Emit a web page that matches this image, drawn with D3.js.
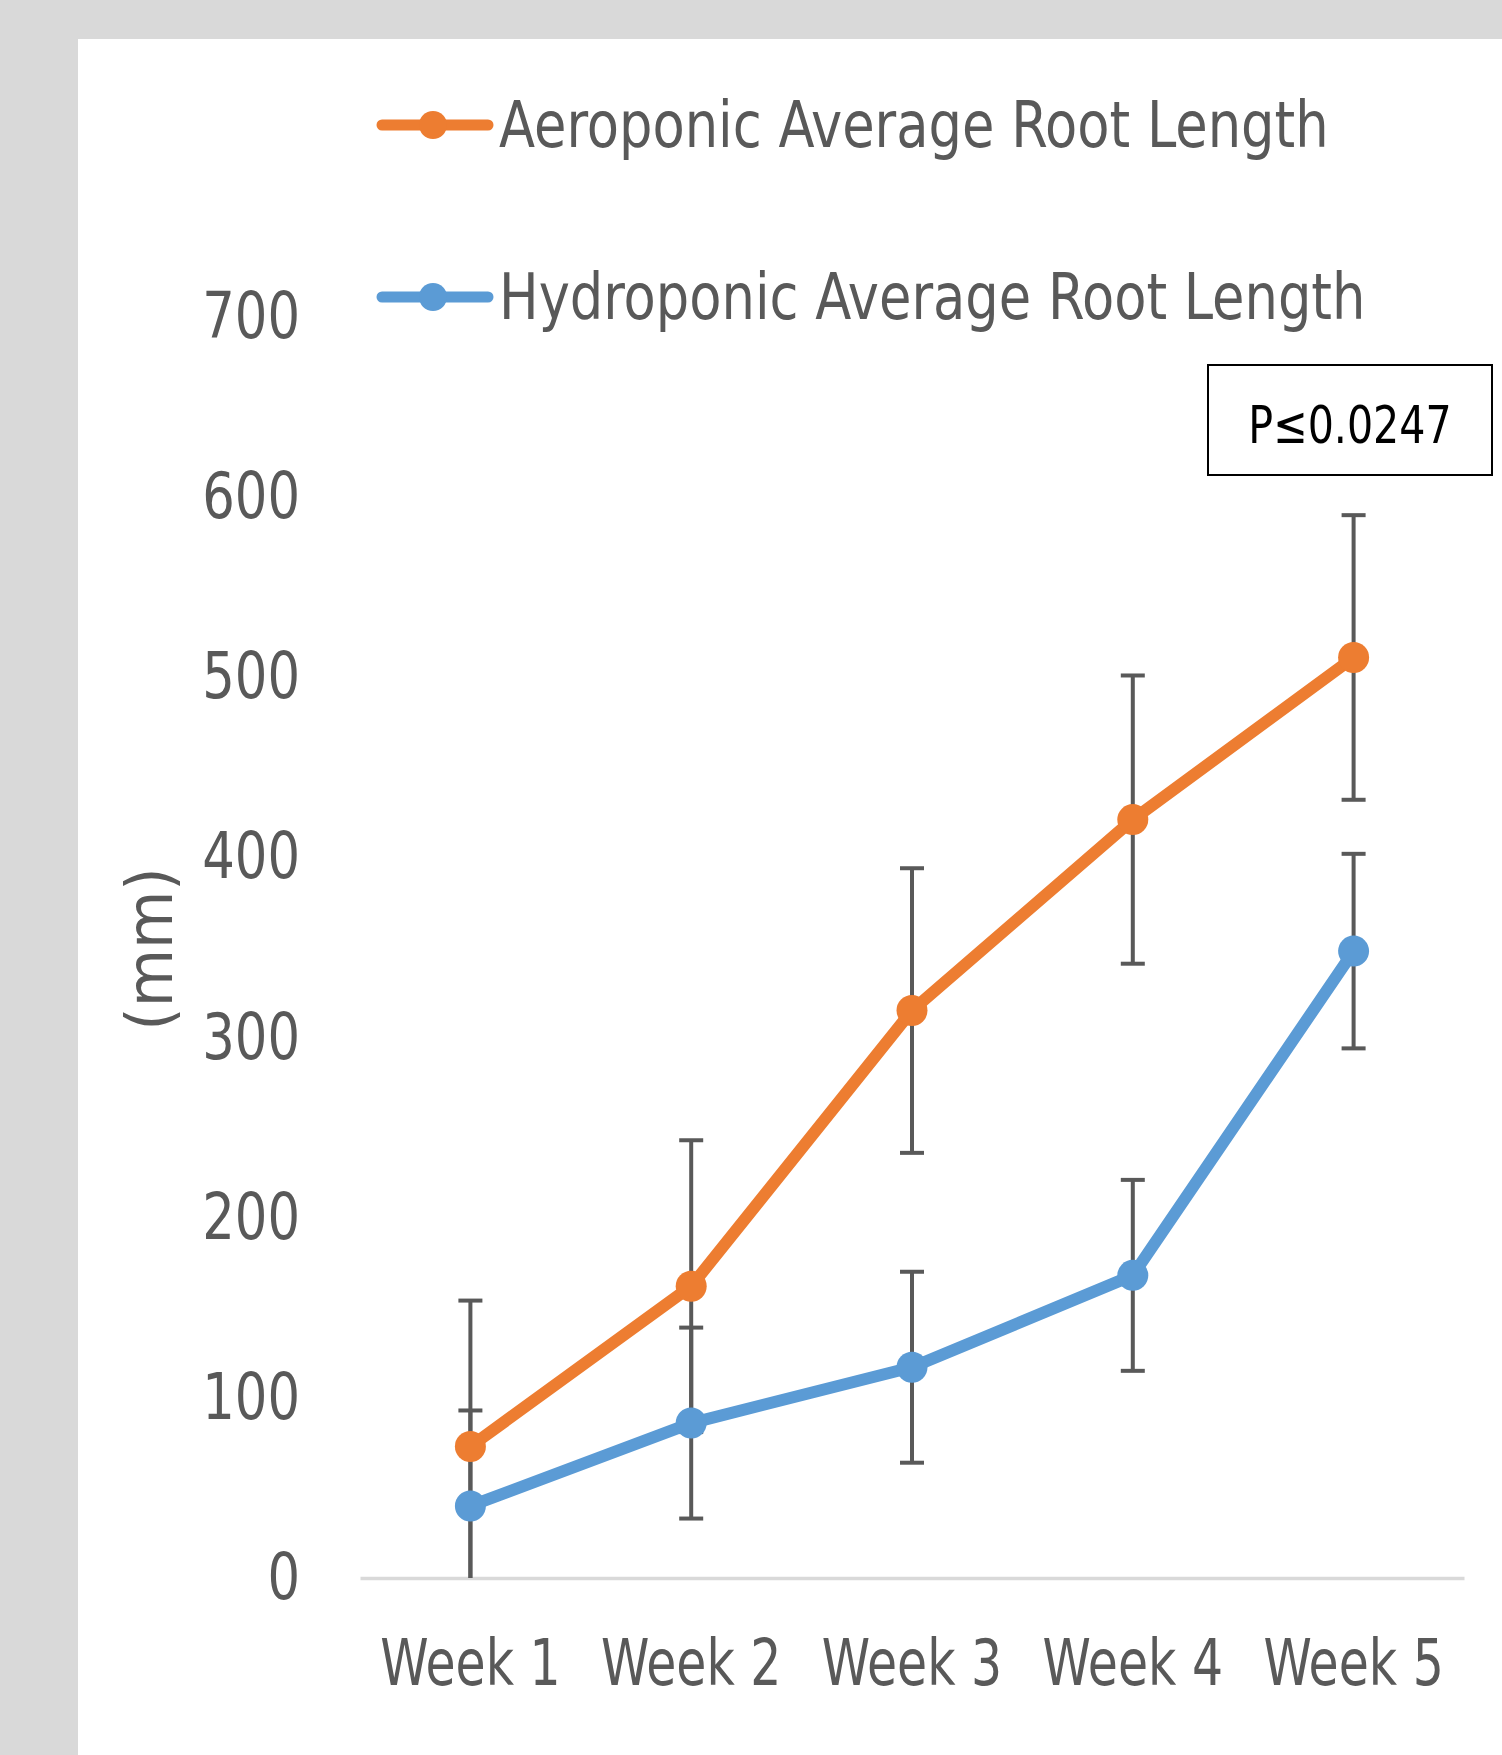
<!DOCTYPE html>
<html>
<head>
<meta charset="utf-8">
<script src="https://cdn.jsdelivr.net/npm/d3@7"></script>
<style>
  body { margin: 0; background: #d9d9d9; }
  svg { display: block; }
  .lbl { font-family: "DejaVu Sans Condensed", "Open Sans", sans-serif; fill: #595959; }
</style>
</head>
<body>
<script>
// data
var weeks = ["Week 1", "Week 2", "Week 3", "Week 4", "Week 5"];
var aeroponic = [73, 162, 315, 421, 511];
var aeroError = [81, 81, 79, 80, 79];
var hydroponic = [40, 86, 117, 168, 348];
var hydroError = [53, 53, 53, 53, 54];
var yTicks = [0, 100, 200, 300, 400, 500, 600, 700];
var seriesNames = ["Aeroponic Average Root Length", "Hydroponic Average Root Length"];
var pLabel = "P\u22640.0247";

var width = 1502, height = 1755;
var orange = "#ED7D31", blue = "#5B9BD5", barColor = "#595959";

// squeeze text sideways so it looks closer to Calibri
function condense(sel, k) {
    sel.each(function () {
        var len = this.getComputedTextLength();
        d3.select(this).attr("textLength", len * k).attr("lengthAdjust", "spacingAndGlyphs");
    });
}

var svg = d3.select("body").append("svg")
    .attr("width", width)
    .attr("height", height);

svg.append("rect").attr("width", width).attr("height", height).attr("fill", "#d9d9d9");
svg.append("rect").attr("x", 78).attr("y", 39).attr("width", width - 78).attr("height", height - 39).attr("fill", "#fff");

var x = d3.scaleBand().domain(weeks).range([360, 1464]);
var y = d3.scaleLinear().domain([0, 700]).range([1578, 317]);
var cx = function (d) { return x(d) + x.bandwidth() / 2; };

// y axis
var yAxis = svg.append("g")
    .attr("transform", "translate(360,0)")
    .call(d3.axisLeft(y).tickValues(yTicks).tickSize(0).tickPadding(60));
yAxis.select(".domain").remove();
yAxis.selectAll("text").attr("class", "lbl").style("font-size", "64px").call(condense, 0.89);

// x axis
var xAxis = svg.append("g")
    .attr("transform", "translate(0,1578)")
    .call(d3.axisBottom(x).tickSize(0).tickPadding(62));
xAxis.select(".domain").attr("stroke", "#d9d9d9").attr("stroke-width", 3.5);
xAxis.selectAll("text").attr("class", "lbl").style("font-size", "64px").call(condense, 0.85);

svg.append("text")
    .attr("class", "lbl")
    .attr("transform", "translate(172,949) rotate(-90)")
    .attr("text-anchor", "middle")
    .style("font-size", "64px")
    .text("(mm)")
    .call(condense, 1.04);

var series = [
    { name: seriesNames[1], values: hydroponic, errors: hydroError, color: blue },
    { name: seriesNames[0], values: aeroponic, errors: aeroError, color: orange }
];

// error bars (clipped at 0, no cap where clipped)
series.forEach(function (s) {
    var g = svg.append("g").attr("stroke", barColor).attr("stroke-width", 4);
    weeks.forEach(function (w, i) {
        var hi = s.values[i] + s.errors[i];
        var lo = Math.max(0, s.values[i] - s.errors[i]);
        var px = cx(w);
        g.append("line").attr("x1", px).attr("x2", px).attr("y1", y(hi)).attr("y2", y(lo));
        g.append("line").attr("x1", px - 12).attr("x2", px + 12).attr("y1", y(hi)).attr("y2", y(hi));
        if (s.values[i] - s.errors[i] > 0)
            g.append("line").attr("x1", px - 12).attr("x2", px + 12).attr("y1", y(lo)).attr("y2", y(lo));
    });
});

var line = d3.line()
    .x(function (d, i) { return cx(weeks[i]); })
    .y(function (d) { return y(d); });

series.forEach(function (s) {
    svg.append("path")
        .datum(s.values)
        .attr("fill", "none")
        .attr("stroke", s.color)
        .attr("stroke-width", 12)
        .attr("stroke-linejoin", "round")
        .attr("d", line);
    svg.append("g").selectAll("circle")
        .data(s.values)
        .enter().append("circle")
        .attr("cx", function (d, i) { return cx(weeks[i]); })
        .attr("cy", function (d) { return y(d); })
        .attr("r", 15.5)
        .attr("fill", s.color);
});

// legend
var legendItems = [
    { name: seriesNames[0], color: orange, y: 125 },
    { name: seriesNames[1], color: blue, y: 297 }
];
var legend = svg.append("g");
legendItems.forEach(function (it) {
    legend.append("line")
        .attr("x1", 382).attr("x2", 488)
        .attr("y1", it.y).attr("y2", it.y)
        .attr("stroke", it.color).attr("stroke-width", 11).attr("stroke-linecap", "round");
    legend.append("circle").attr("cx", 433).attr("cy", it.y).attr("r", 14).attr("fill", it.color);
    legend.append("text")
        .attr("class", "lbl")
        .attr("x", 499).attr("y", it.y)
        .attr("dy", "0.35em")
        .style("font-size", "64px")
        .text(it.name)
        .call(condense, 0.915);
});

// p-value box
svg.append("rect")
    .attr("x", 1208).attr("y", 365)
    .attr("width", 284).attr("height", 110)
    .attr("fill", "#fff").attr("stroke", "#000").attr("stroke-width", 2);
svg.append("text")
    .attr("x", 1350).attr("y", 425)
    .attr("dy", "0.35em")
    .attr("text-anchor", "middle")
    .style("font-family", "'DejaVu Sans Condensed', 'Open Sans', sans-serif")
    .style("font-size", "52px")
    .attr("fill", "#000")
    .text(pLabel)
    .call(condense, 0.88);
</script>
</body>
</html>
